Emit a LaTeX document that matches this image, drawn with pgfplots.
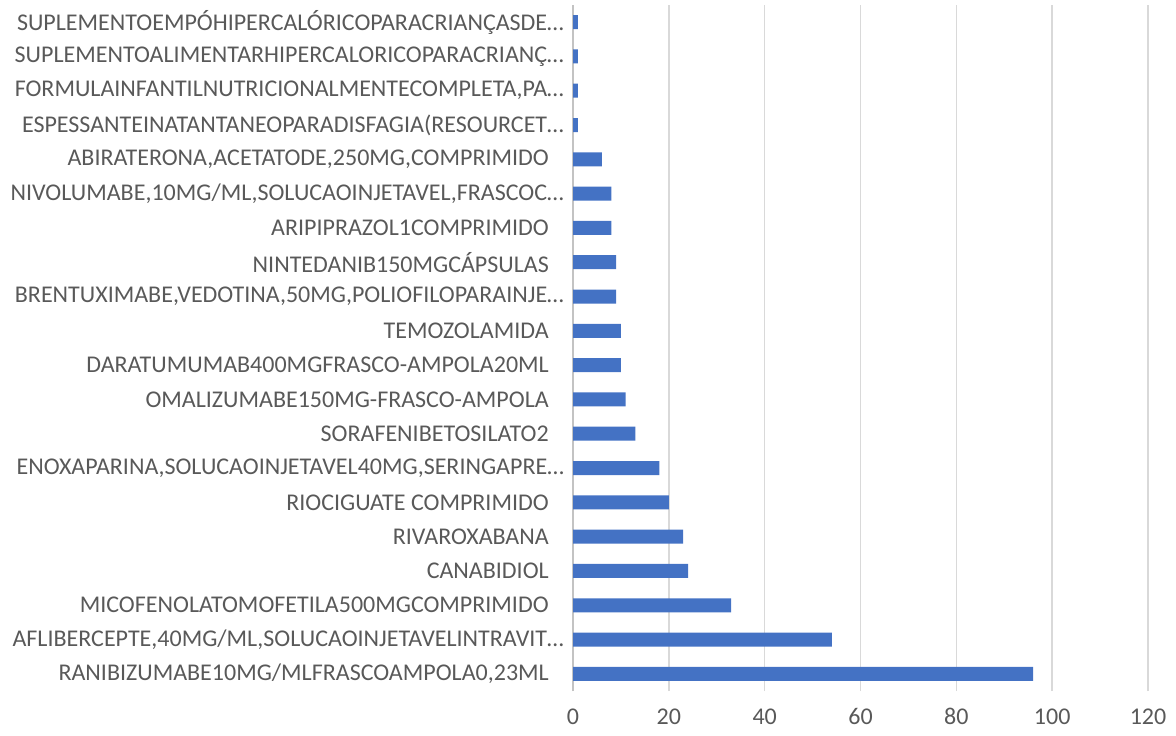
\documentclass[border=0pt]{standalone}
\usepackage{pgfplots}
\pgfplotsset{compat=1.18}
\usepackage{fontspec}
\setmainfont{Carlito}
\definecolor{barblue}{HTML}{4472C4}
\definecolor{gridgray}{HTML}{D9D9D9}
\definecolor{txtgray}{HTML}{595959}
\newcommand{\pad}{\hspace*{11.25pt}}
\begin{document}
\fontsize{18}{21}\selectfont
\begin{tikzpicture}
\useasboundingbox (0,0) rectangle (882pt,551.25pt);
\begin{axis}[
  at={(429.75pt,33pt)}, anchor=south west,
  scale only axis,
  width=431.25pt, height=514.5pt,
  xbar, bar width=10.5pt,
  xmin=0, xmax=120,
  ymin=-0.5, ymax=19.5,
  xtick={0,20,...,120},
  ytick={0,...,19},
  yticklabels={
    {RANIBIZUMABE10MG/MLFRASCOAMPOLA0,23ML\pad},
    {AFLIBERCEPTE,40MG/ML,SOLUCAOINJETAVELINTRAVIT…},
    {MICOFENOLATOMOFETILA500MGCOMPRIMIDO\pad},
    {CANABIDIOL\pad},
    {RIVAROXABANA\pad},
    {RIOCIGUATE COMPRIMIDO\pad},
    {ENOXAPARINA,SOLUCAOINJETAVEL40MG,SERINGAPRE…},
    {SORAFENIBETOSILATO2\pad},
    {OMALIZUMABE150MG-FRASCO-AMPOLA\pad},
    {DARATUMUMAB400MGFRASCO-AMPOLA20ML\pad},
    {TEMOZOLAMIDA\pad},
    {BRENTUXIMABE,VEDOTINA,50MG,POLIOFILOPARAINJE…},
    {NINTEDANIB150MGCÁPSULAS\pad},
    {ARIPIPRAZOL1COMPRIMIDO\pad},
    {NIVOLUMABE,10MG/ML,SOLUCAOINJETAVEL,FRASCOC…},
    {ABIRATERONA,ACETATODE,250MG,COMPRIMIDO\pad},
    {ESPESSANTEINATANTANEOPARADISFAGIA(RESOURCET…},
    {FORMULAINFANTILNUTRICIONALMENTECOMPLETA,PA…},
    {SUPLEMENTOALIMENTARHIPERCALORICOPARACRIANÇ…},
    {SUPLEMENTOEMPÓHIPERCALÓRICOPARACRIANÇASDE…}
  },
  major tick length=0pt,
  xmajorgrids, grid style={gridgray, line width=1.1pt},
  axis line style={draw=none},
  axis x line*=bottom, axis y line*=left,
  extra x ticks={0}, extra x tick labels={},
  extra x tick style={grid style={gridgray!90!black, line width=1.1pt}},
  /pgf/number format/assume math mode=true,
  tick label style={font=\fontsize{18}{21}\selectfont, text=txtgray},
  yticklabel style={inner sep=0pt, anchor=east, xshift=-6.75pt},
  xticklabel style={inner sep=0pt, anchor=north, yshift=-13pt},
  clip=false,
]
\addplot[fill=barblue, draw=none] coordinates {
  (96,0) (54,1) (33,2) (24,3) (23,4) (20,5) (18,6) (13,7) (11,8) (10,9)
  (10,10) (9,11) (9,12) (8,13) (8,14) (6,15) (1,16) (1,17) (1,18) (1,19)
};
\end{axis}
\end{tikzpicture}
\end{document}
